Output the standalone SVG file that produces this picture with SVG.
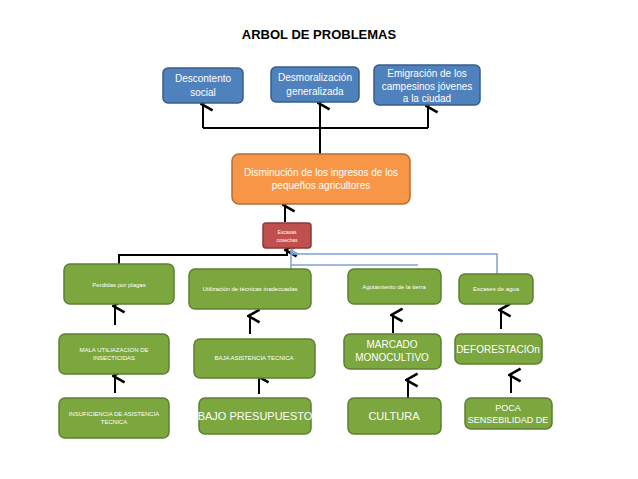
<svg xmlns="http://www.w3.org/2000/svg" width="638" height="479" viewBox="0 0 638 479">
<defs>
<style>
text{font-family:"Liberation Sans",Carlito,sans-serif;fill:#fff;text-anchor:middle}
.b{fill:#4F81BD;stroke:#385D8A;stroke-width:1.5}
.o{fill:#F79646;stroke:#B66D31;stroke-width:1.5}
.r{fill:#C0504D;stroke:#8C3836;stroke-width:1.5}
.g{fill:#7BA73E;stroke:#5E8030;stroke-width:1.5}
.k{stroke:#000;stroke-width:2;fill:none}
.l{stroke:#7FA3CF;stroke-width:1.5;fill:none}
</style>
<marker id="a" viewBox="0 0 10 10" refX="5" refY="2" markerWidth="8" markerHeight="8" orient="auto-start-reverse"><path d="M1,8 L5,1 L9,8" fill="none" stroke="#000" stroke-width="1.6"/></marker>
<marker id="bl" viewBox="0 0 10 10" refX="5" refY="2" markerWidth="7" markerHeight="7" orient="auto-start-reverse"><path d="M1,8 L5,1 L9,8" fill="none" stroke="#7FA3CF" stroke-width="1.6"/></marker>
</defs>
<text x="319" y="39" style="fill:#000;font-weight:bold;font-size:13px">ARBOL DE PROBLEMAS</text>
<g id="connectors">
<path class="k" d="M320,154 V128 M203,128 H428"/>
<path class="k" d="M203,128 V104" marker-end="url(#a)"/>
<path class="k" d="M320,128 V103" marker-end="url(#a)"/>
<path class="k" d="M428,128 V106" marker-end="url(#a)"/>
<path class="k" d="M285,222 V205" marker-end="url(#a)"/>
<path class="k" d="M119,264 V255 H287 V250" marker-end="url(#a)"/>
<path class="l" d="M497,274 V254 H292 V250" marker-end="url(#bl)"/>
<path class="l" d="M291,269 V250"/>
<path class="l" d="M291,265 H418"/>
<path class="k" d="M115,325 V306" marker-end="url(#a)"/>
<path class="k" d="M115,393 V376" marker-end="url(#a)"/>
<path class="k" d="M250,334 V316" marker-end="url(#a)"/>
<path class="k" d="M259,394 V376" marker-end="url(#a)"/>
<path class="k" d="M393,333 V315" marker-end="url(#a)"/>
<path class="k" d="M408,398 V380" marker-end="url(#a)"/>
<path class="k" d="M501,329 V310" marker-end="url(#a)"/>
<path class="k" d="M511,393 V375" marker-end="url(#a)"/>
</g>
<g id="n1"><rect class="b" x="163" y="68" width="80" height="35" rx="5"/><text x="203" y="82" font-size="10">Descontento</text><text x="203" y="96" font-size="10">social</text></g>
<g id="n2"><rect class="b" x="271" y="67" width="88" height="35" rx="5"/><text x="315" y="81" font-size="10">Desmoralización</text><text x="315" y="95" font-size="10">generalizada</text></g>
<g id="n3"><rect class="b" x="374" y="65" width="106" height="40" rx="5"/><text x="427" y="77" font-size="10">Emigración de los</text><text x="427" y="90" font-size="10">campesinos jóvenes</text><text x="427" y="102" font-size="10">a la ciudad</text></g>
<g id="n4"><rect class="o" x="232" y="154" width="178" height="50" rx="7"/><text x="321" y="176" font-size="10">Disminución de los ingresos de los</text><text x="321" y="189" font-size="10">pequeños agricultores</text></g>
<g id="n5"><rect class="r" x="263" y="223" width="48" height="25" rx="3"/><text x="287" y="234" font-size="5">Escasas</text><text x="287" y="242" font-size="5">cosechas</text></g>
<g id="n6"><rect class="g" x="64" y="264" width="110" height="40" rx="6"/><text x="119" y="287" font-size="6">Perdidas  por plagas</text></g>
<g id="n7"><rect class="g" x="189" y="269" width="122" height="40" rx="6"/><text x="250" y="291" font-size="6">Utilización de técnicas inadecuadas</text></g>
<g id="n8"><rect class="g" x="348" y="269" width="93" height="35" rx="6"/><text x="394" y="289" font-size="6">Agotamiento de la tierra</text></g>
<g id="n9"><rect class="g" x="459" y="274" width="74" height="30" rx="6"/><text x="496" y="291" font-size="6">Escases de agua</text></g>
<g id="n10"><rect class="g" x="59" y="334" width="110" height="40" rx="6"/><text x="114" y="352" font-size="6">MALA UTILIAZACION DE</text><text x="114" y="360" font-size="6">INSECTICIDAS</text></g>
<g id="n11"><rect class="g" x="194" y="339" width="121" height="39" rx="6"/><text x="254" y="360" font-size="6">BAJA ASISTENCIA TECNICA</text></g>
<g id="n12"><rect class="g" x="344" y="334" width="97" height="35" rx="6"/><text x="392" y="348" font-size="10">MARCADO</text><text x="392" y="361" font-size="10">MONOCULTIVO</text></g>
<g id="n13"><rect class="g" x="455" y="334" width="87" height="30" rx="6"/><text x="498" y="353" font-size="10">DEFORESTACIOn</text></g>
<g id="n14"><rect class="g" x="59" y="398" width="110" height="40" rx="6"/><text x="114" y="416" font-size="6">INSUFICIENCIA DE ASISTENCIA</text><text x="114" y="424" font-size="6">TECNICA</text></g>
<g id="n15"><rect class="g" x="199" y="398" width="112" height="36" rx="6"/><text x="255" y="420" font-size="11">BAJO PRESUPUESTO</text></g>
<g id="n16"><rect class="g" x="348" y="398" width="93" height="36" rx="6"/><text x="394" y="420" font-size="11">CULTURA</text></g>
<g id="n17"><rect class="g" x="465" y="398" width="87" height="31" rx="6"/><text x="508" y="411" font-size="9">POCA</text><text x="508" y="423" font-size="9">SENSEBILIDAD DE</text></g>
</svg>
